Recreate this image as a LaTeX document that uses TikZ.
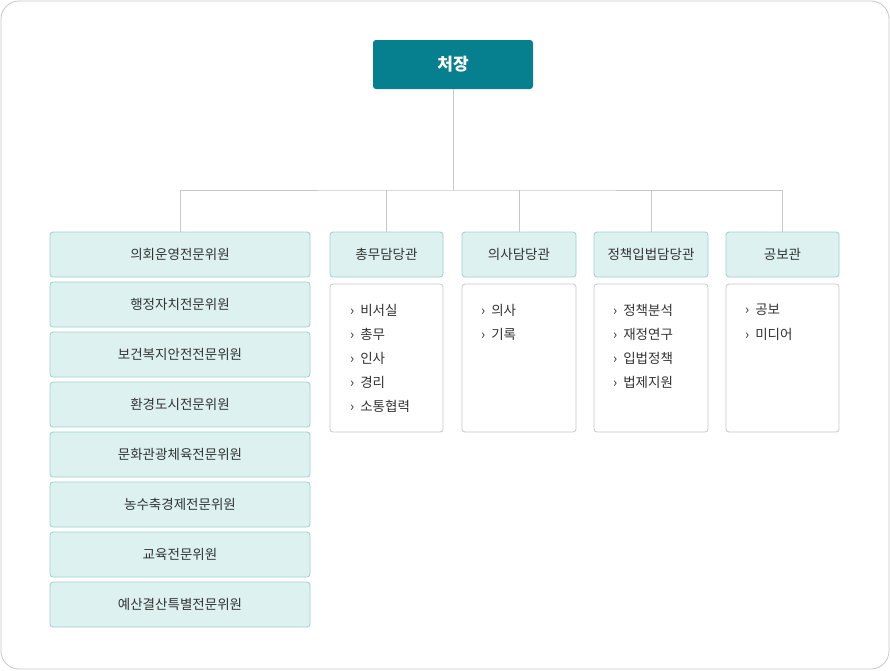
\documentclass[tikz,border=0pt]{standalone}
\usepackage{fontspec}
\setmainfont{Noto Sans CJK KR}
\definecolor{teal1}{HTML}{067F8F}
\definecolor{mint}{HTML}{DDF1F1}
\definecolor{mintb}{HTML}{9ECFCF}
\definecolor{grayb}{HTML}{C8C8C8}
\definecolor{txt}{HTML}{333333}
\tikzset{
 cbox/.style={draw=mintb,line width=0.8pt,fill=mint,rounded corners=3pt,text=txt,font=\fontsize{13.5}{15}\selectfont},
 lbox/.style={draw=grayb,line width=0.8pt,fill=white,rounded corners=3pt},
 item/.style={anchor=west,text=txt,font=\fontsize{13.5}{15}\selectfont,inner sep=0pt},
 conn/.style={draw=grayb,line width=0.8pt}
}
\begin{document}
\begin{tikzpicture}[x=1pt,y=-1pt]
\useasboundingbox (0,0) rectangle (890,670);
\draw[draw=grayb,line width=0.8pt,rounded corners=18pt,fill=white] (1,1) rectangle (889,669);
\node[fill=teal1,rounded corners=3pt,minimum width=160pt,minimum height=49pt,text=white,font=\bfseries\fontsize{17}{19}\selectfont] (top) at (453,64.5) {처장};
\coordinate (j) at (453,190);
\foreach \n/\t [count=\i from 0] in {a/의회운영전문위원,b/행정자치전문위원,c/보건복지안전전문위원,d/환경도시전문위원,e/문화관광체육전문위원,f/농수축경제전문위원,g/교육전문위원,h/예산결산특별전문위원}{
 \node[cbox,minimum width=260pt,minimum height=45pt] (\n) at (180,254.5+50*\i) {\t};
}
\node[cbox,minimum width=113pt,minimum height=45pt] (h1) at (386.5,254.5) {총무담당관};
\node[cbox,minimum width=114pt,minimum height=45pt] (h2) at (519,254.5) {의사담당관};
\node[cbox,minimum width=114pt,minimum height=45pt] (h3) at (651,254.5) {정책입법담당관};
\node[cbox,minimum width=113pt,minimum height=45pt] (h4) at (782.5,254.5) {공보관};
\node[lbox,minimum width=113pt,minimum height=148pt] (l1) at (386.5,358) {};
\node[lbox,minimum width=114pt,minimum height=148pt] (l2) at (519,358) {};
\node[lbox,minimum width=114pt,minimum height=148pt] (l3) at (651,358) {};
\node[lbox,minimum width=113pt,minimum height=148pt] (l4) at (782.5,358) {};
\foreach \x/\lst in {350/{비서실,총무,인사,경리,소통협력},481/{의사,기록},613/{정책분석,재정연구,입법정책,법제지원},745/{공보,미디어}}{
 \foreach \s [count=\k from 0] in \lst {
  \node[item] at (\x,310+24*\k) {›\hspace{6pt}\s};
 }
}
\draw[conn] (top.south) -- (j);
\draw[conn] (a.north) |- (j) -| (h4.north);
\draw[conn] (h1.north) -- (h1.north |- j);
\draw[conn] (h2.north) -- (h2.north |- j);
\draw[conn] (h3.north) -- (h3.north |- j);
\end{tikzpicture}
\end{document}
